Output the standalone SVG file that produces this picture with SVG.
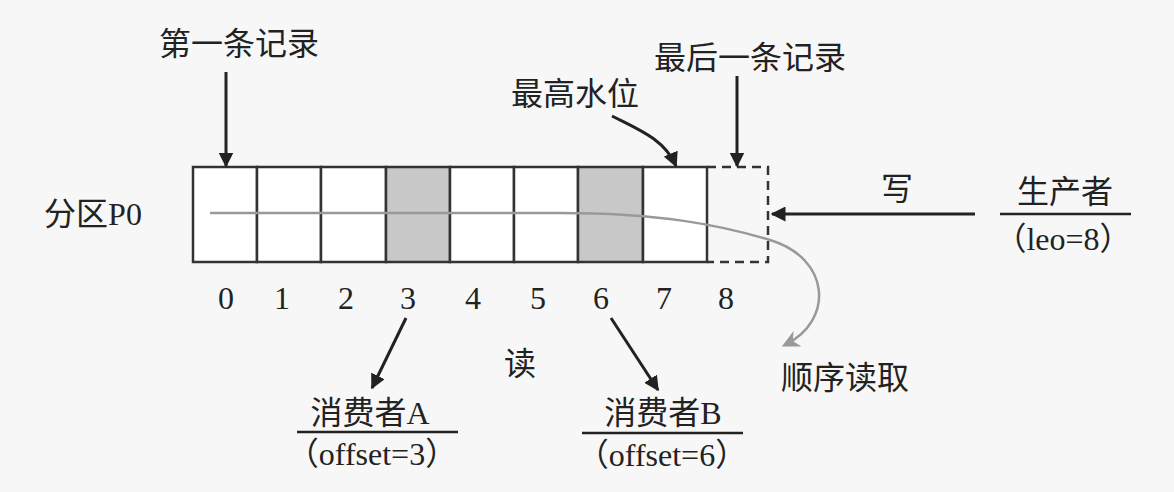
<svg xmlns="http://www.w3.org/2000/svg" width="1174" height="492" viewBox="0 0 1174 492">
<defs>
<marker id="ah" viewBox="0 0 10 10" refX="9" refY="5" markerWidth="5" markerHeight="5" orient="auto" markerUnits="strokeWidth">
<path d="M0,0 L10,5 L0,10 z" fill="#222"/>
</marker>
<marker id="ahg" viewBox="0 0 10 10" refX="8" refY="5" markerWidth="7" markerHeight="7" orient="auto" markerUnits="strokeWidth">
<path d="M0,0 L10,5 L0,10 L3,5 z" fill="#999"/>
</marker>
<style>
.t{font-family:"Liberation Serif","Noto Sans CJK SC",serif;font-size:32px;fill:#222;text-anchor:middle}
.cj{font-family:"Noto Sans CJK SC",sans-serif}
.lt{font-family:"Liberation Serif",serif}
.cell{fill:#fff;stroke:#333;stroke-width:2.5}
.sh{fill:#c8c8c8;stroke:#333;stroke-width:2.5}
.ar{stroke:#222;stroke-width:3;fill:none;marker-end:url(#ah)}
</style>
</defs>
<rect width="1174" height="492" fill="#f7f7f7"/>
<g id="partition">
<rect class="cell" x="193" y="167" width="64" height="95"/>
<rect class="cell" x="257" y="167" width="64" height="95"/>
<rect class="cell" x="321" y="167" width="65" height="95"/>
<rect class="sh" x="386" y="167" width="64" height="95"/>
<rect class="cell" x="450" y="167" width="64" height="95"/>
<rect class="cell" x="514" y="167" width="64" height="95"/>
<rect class="sh" x="578" y="167" width="65" height="95"/>
<rect class="cell" x="643" y="167" width="64" height="95"/>
<path d="M707,167 H768 V262 H707" fill="none" stroke="#333" stroke-width="2.5" stroke-dasharray="9,6"/>
<text class="t" x="93" y="225">分区P0</text>
<text class="t" x="226" y="309">0</text>
<text class="t" x="282" y="309">1</text>
<text class="t" x="346" y="309">2</text>
<text class="t" x="408" y="309">3</text>
<text class="t" x="473" y="309">4</text>
<text class="t" x="538" y="309">5</text>
<text class="t" x="601" y="309">6</text>
<text class="t" x="664" y="309">7</text>
<text class="t" x="726" y="309">8</text>
</g>
<g id="labels">
<text class="t" x="239" y="55">第一条记录</text>
<text class="t" x="750" y="69">最后一条记录</text>
<text class="t" x="575" y="105">最高水位</text>
<text class="t" x="897" y="200">写</text>
<text class="t" x="520" y="375">读</text>
<text class="t" x="845" y="389">顺序读取</text>
</g>
<g id="producer">
<text class="t" x="1065" y="203">生产者</text>
<line x1="1000" y1="214" x2="1131" y2="214" stroke="#222" stroke-width="2.5"/>
<text class="t" x="1063" y="250"><tspan class="cj">（</tspan><tspan class="lt">leo=8</tspan><tspan class="cj">）</tspan></text>
</g>
<g id="consumerA">
<text class="t" x="370" y="424">消费者A</text>
<line x1="297" y1="432" x2="458" y2="432" stroke="#222" stroke-width="2.5"/>
<text class="t" x="372" y="465"><tspan class="cj">（</tspan><tspan class="lt">offset=3</tspan><tspan class="cj">）</tspan></text>
</g>
<g id="consumerB">
<text class="t" x="663" y="424">消费者B</text>
<line x1="582" y1="433" x2="743" y2="433" stroke="#222" stroke-width="2.5"/>
<text class="t" x="662" y="466"><tspan class="cj">（</tspan><tspan class="lt">offset=6</tspan><tspan class="cj">）</tspan></text>
</g>
<g id="connectors">
<path d="M210,213 L560,213 C660,213 720,225 770,240 C830,258 835,320 785,345" stroke="#999" stroke-width="2.5" fill="none" marker-end="url(#ahg)"/>
<line class="ar" x1="226" y1="72" x2="226" y2="166"/>
<line class="ar" x1="737" y1="76" x2="737" y2="166"/>
<path class="ar" d="M612,116 C640,130 665,140 676,166"/>
<line class="ar" x1="975" y1="214" x2="772" y2="214"/>
<line class="ar" x1="406" y1="318" x2="372" y2="388"/>
<line class="ar" x1="611" y1="318" x2="658" y2="390"/>
</g>
</svg>
